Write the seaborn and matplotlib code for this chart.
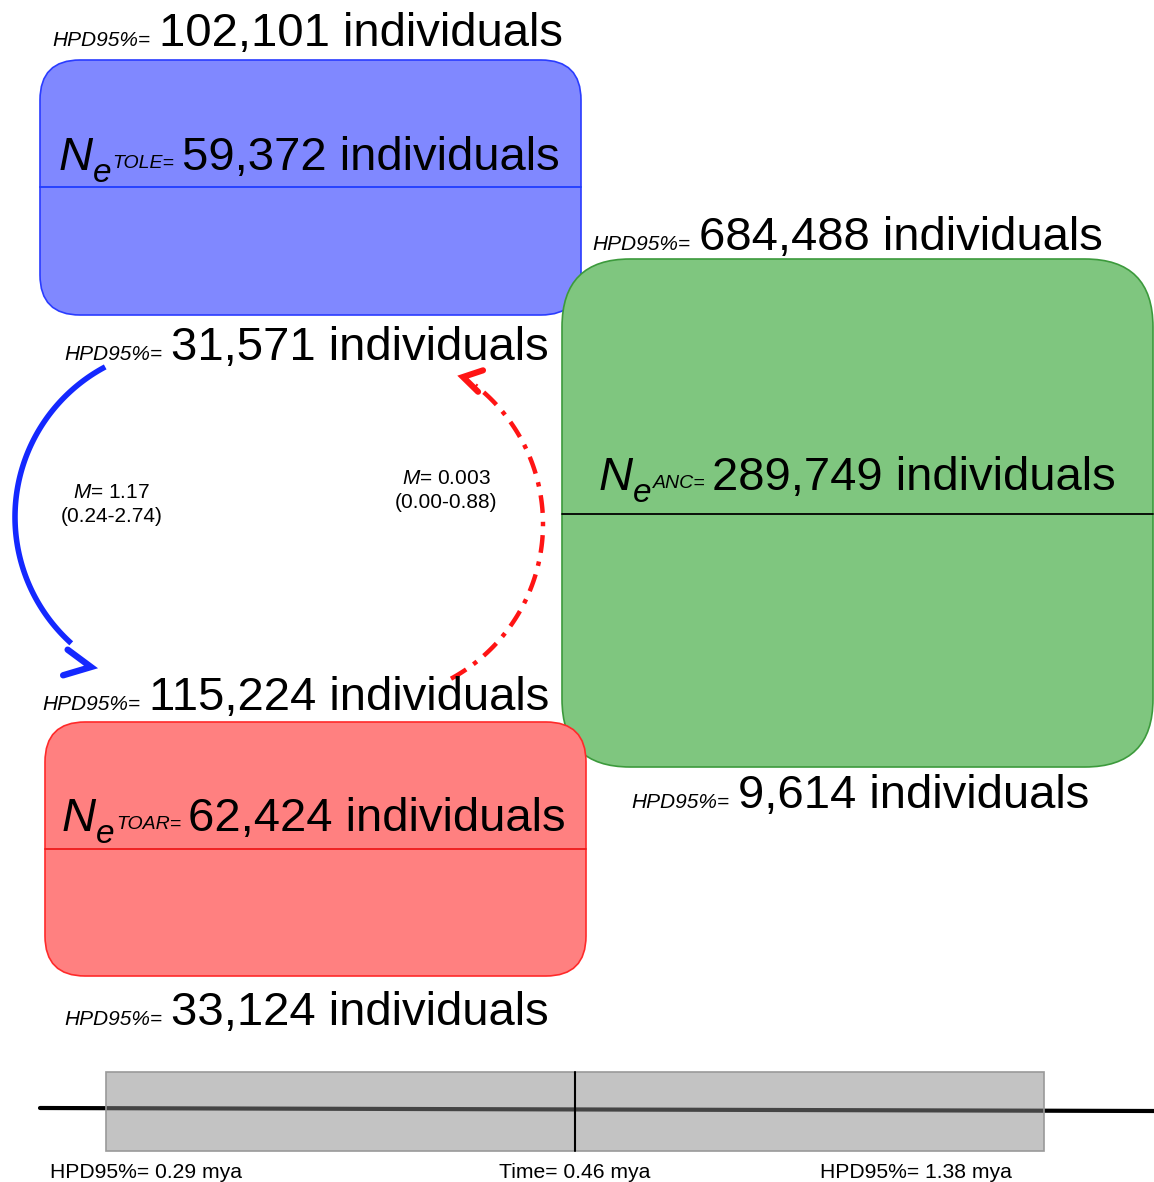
import numpy as np
import pandas as pd
import matplotlib
matplotlib.use("Agg")
import matplotlib.pyplot as plt
import seaborn as sns
from matplotlib.patches import FancyBboxPatch, Rectangle

# ── data ──────────────────────────────────────────────────────────────────────
pops      = ["TOLE", "ANC", "TOAR"]
ne_mean   = [59372, 289749, 62424]
ne_hpd_hi = [102101, 684488, 115224]
ne_hpd_lo = [31571, 9614, 33124]
mig_rate  = ["1.17", "0.003"]
mig_ci    = ["0.24-2.74", "0.00-0.88"]
div_time  = 0.46
div_hpd   = [0.29, 1.38]

# ── layout (pixels, y down) ───────────────────────────────────────────────────
W, H = 1154, 1182
boxes = {
    "TOLE": dict(x0=40,  y0=60,  x1=581,  y1=315, r=40, fc="#8088ff", ec="#2a3cff", mid=187, lc="#1f3cff"),
    "ANC":  dict(x0=562, y0=259, x1=1153, y1=767, r=68, fc="#7fc67f", ec="#3c9a3c", mid=514, lc="black"),
    "TOAR": dict(x0=45,  y0=722, x1=586,  y1=976, r=40, fc="#ff8080", ec="#ff2a2a", mid=849, lc="#ee1c1c"),
}
ne_pos = {"TOLE": (59, 170), "ANC": (599, 490), "TOAR": (62, 831)}
hi_pos = {"TOLE": (52, 46),  "ANC": (592, 250), "TOAR": (42, 710)}
lo_pos = {"TOLE": (64, 360), "ANC": (631, 808), "TOAR": (64, 1025)}

sns.set_theme(style="white")
plt.rcParams["font.family"] = ["Liberation Sans", "DejaVu Sans"]
plt.rcParams["mathtext.fontset"] = "custom"
plt.rcParams["mathtext.it"] = "Liberation Sans:italic"
plt.rcParams["mathtext.rm"] = "Liberation Sans"
plt.rcParams["text.color"] = "black"

fig = plt.figure(figsize=(W / 100, H / 100), dpi=100)
ax = fig.add_axes([0, 0, 1, 1])
ax.set_xlim(0, W)
ax.set_ylim(H, 0)
ax.axis("off")
renderer = fig.canvas.get_renderer()

BIG = 34


def rich(x, y, pieces):
    # place text pieces one after another along a baseline
    for txt, size, style, dy, gap in pieces:
        t = ax.text(x, y + dy, txt, fontsize=size, fontstyle=style,
                    va="baseline", ha="left", color="black", zorder=5)
        x += t.get_window_extent(renderer).width + gap


def hpd_label(pos, value):
    rich(pos[0], pos[1], [("HPD95%=", 15, "italic", 0, 9),
                          (f"{value:,} individuals", BIG, "normal", 0, 0)])


# ── population boxes ──────────────────────────────────────────────────────────
for pop, ne, hi, lo in zip(pops, ne_mean, ne_hpd_hi, ne_hpd_lo):
    b = boxes[pop]
    ax.add_patch(FancyBboxPatch((b["x0"], b["y0"]), b["x1"] - b["x0"], b["y1"] - b["y0"],
                                boxstyle=f"round,pad=0,rounding_size={b['r']}",
                                fc=b["fc"], ec=b["ec"], lw=1.2, zorder=1))
    ax.plot([b["x0"], b["x1"]], [b["mid"], b["mid"]], color=b["lc"], lw=1.3, zorder=2)
    x, y = ne_pos[pop]
    rich(x, y, [("N", 34, "italic", 0, 0),
                ("e", 24, "italic", 12, 1),
                (f"{pop}=", 14, "italic", -2, 7),
                (f"{ne:,} individuals", BIG, "normal", 0, 0)])
    hpd_label(hi_pos[pop], hi)
    hpd_label(lo_pos[pop], lo)


# ── migration arrows (circular arcs + open chevron heads) ─────────────────────
def arc_pts(center, radius, a0, a1, n=120):
    t = np.radians(np.linspace(a0, a1, n))
    return center[0] + radius * np.cos(t), center[1] + radius * np.sin(t)


def chevron(tip, angle, length, half, color, lw):
    d = np.array([np.cos(np.radians(angle)), np.sin(np.radians(angle))])
    p = np.array([-d[1], d[0]])
    tip = np.array(tip, float)
    a1 = tip - length * d + half * p
    a2 = tip - length * d - half * p
    ax.plot([a1[0], tip[0], a2[0]], [a1[1], tip[1], a2[1]], color=color, lw=lw,
            solid_joinstyle="miter", solid_capstyle="round", zorder=3)


blue = "#1428ff"
red = "#ff1414"
# blue: TOLE -> TOAR, bulging left
bx, by = arc_pts((185, 517), 170, 242, 132)
ax.plot(bx, by, color=blue, lw=4, solid_capstyle="butt", zorder=3)
chevron((91, 667), 10, 26, 13, blue, 4.6)
# red: TOAR -> TOLE, bulging right
rx, ry = arc_pts((367, 524), 176, 61.5, -52)
ax.plot(rx, ry, color=red, lw=3.2, ls=(0, (4, 2, 1, 2)), zorder=3)
chevron((463, 377), 193, 18, 11, red, 4.4)

for (cx, cy), m, ci in zip([(112, 492), (446, 478)], mig_rate, mig_ci):
    ax.text(cx, cy, f"$M$= {m}", fontsize=15, ha="center", va="center", color="black", zorder=5)
    ax.text(cx, cy + 25, f"({ci})", fontsize=15, ha="center", va="center", color="black", zorder=5)

# ── divergence time bar ───────────────────────────────────────────────────────
line_df = pd.DataFrame({"x": [40, 1154], "y": [1108, 1111]})
sns.lineplot(data=line_df, x="x", y="y", color="black", lw=3, ax=ax, zorder=2)
ax.add_patch(Rectangle((106, 1072), 938, 79, fc=(0.533, 0.533, 0.533, 0.5),
                       ec="#999999", lw=1.2, zorder=3))
ax.plot([575, 575], [1072, 1151], color="black", lw=1.5, zorder=4)
ax.text(50, 1178, f"HPD95%= {div_hpd[0]:.2f} mya", fontsize=15.2, ha="left", va="baseline", color="black")
ax.text(575, 1178, f"Time= {div_time:.2f} mya", fontsize=15.2, ha="center", va="baseline", color="black")
ax.text(820, 1178, f"HPD95%= {div_hpd[1]:.2f} mya", fontsize=15.2, ha="left", va="baseline", color="black")

ax.set_xlim(0, W)
ax.set_ylim(H, 0)
fig.savefig("out.png", dpi=100, facecolor="white")
